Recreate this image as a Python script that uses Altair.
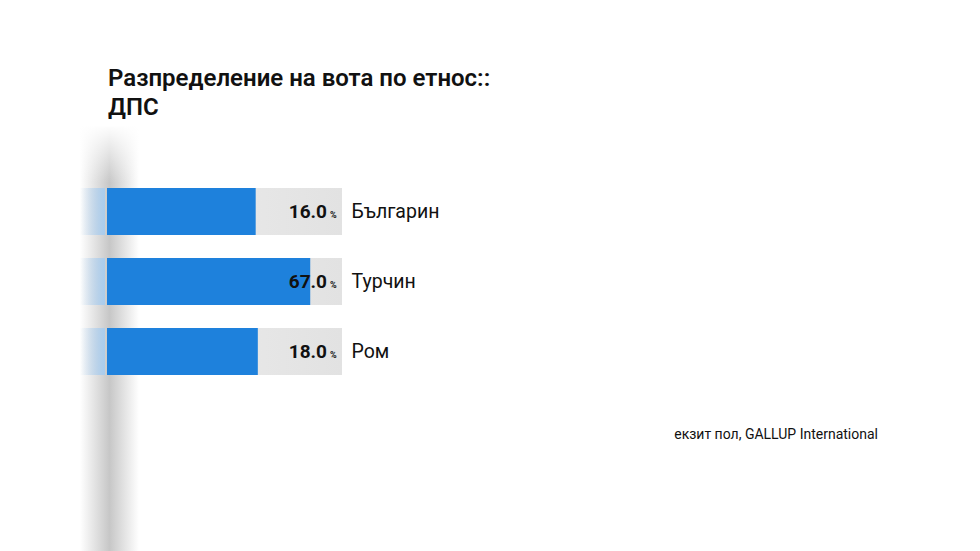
import altair as alt
import pandas as pd

categories = ["Българин", "Турчин", "Ром"]
values = [16.0, 67.0, 18.0]
title_lines = ["Разпределение на вота по етнос::", "ДПС"]
source_text = "екзит пол, GALLUP International"

df = pd.DataFrame({"group": categories, "value": values})
one = pd.DataFrame({"k": [0]})

W, H = 235, 210
BLUE = "#1E81DC"

y_enc = alt.Y(
    "group:N",
    sort=categories,
    scale=alt.Scale(paddingInner=0.33, paddingOuter=0.165),
    axis=alt.Axis(
        orient="right", title=None, domain=False, ticks=False, grid=False,
        labelPadding=9, labelFontSize=19.5, labelFont="Roboto",
        labelColor="#111111", labelFontWeight=400,
    ),
)

xscale = alt.Scale(domain=[-123, 96.7], zero=False, nice=False)

shadow = alt.Chart(one).mark_rect(
    color=alt.LinearGradient(
        gradient="linear", x1=0, x2=1, y1=0, y2=0,
        stops=[
            alt.GradientStop(color="rgba(180,180,180,0)", offset=0),
            alt.GradientStop(color="rgba(180,180,180,1)", offset=0.5),
            alt.GradientStop(color="rgba(180,180,180,0)", offset=1),
        ],
    ),
    opacity=0.75,
).encode(x=alt.value(-27), x2=alt.value(32), y=alt.value(-50), y2=alt.value(380))

shadow_fade = alt.Chart(one).mark_rect(
    color=alt.LinearGradient(
        gradient="linear", x1=0, x2=0, y1=0, y2=1,
        stops=[
            alt.GradientStop(color="rgba(255,255,255,1)", offset=0),
            alt.GradientStop(color="rgba(255,255,255,0)", offset=1),
        ],
    ),
).encode(x=alt.value(-30), x2=alt.value(35), y=alt.value(-52), y2=alt.value(6))

bg = alt.Chart(df).mark_rect(
    color=alt.LinearGradient(
        gradient="linear", x1=0, x2=1, y1=0, y2=0,
        stops=[
            alt.GradientStop(color="#EEEEEE", offset=0),
            alt.GradientStop(color="#E2E2E2", offset=1),
        ],
    ),
).encode(y=y_enc, x=alt.value(0), x2=alt.value(W))

light = alt.Chart(df).mark_rect(
    color=alt.LinearGradient(
        gradient="linear", x1=0, x2=1, y1=0, y2=0,
        stops=[
            alt.GradientStop(color="rgba(170,205,238,0)", offset=0),
            alt.GradientStop(color="rgba(170,205,238,1)", offset=1),
        ],
    ),
).encode(y=y_enc, x=alt.value(-27), x2=alt.value(-2))

bars = alt.Chart(df).mark_rect(color=BLUE).encode(
    y=y_enc,
    x=alt.X("value:Q", scale=xscale, axis=None),
    x2=alt.value(0),
)

nums = alt.Chart(df).mark_text(
    align="right", baseline="middle", font="Roboto", fontSize=19,
    fontWeight="bold", color="#111111",
).encode(y=y_enc, x=alt.value(220), text=alt.Text("value:Q", format=".1f"))

pct = alt.Chart(df).mark_text(
    align="left", baseline="middle", font="Roboto", fontSize=9,
    fontWeight="bold", color="#111111", dy=3,
).encode(y=y_enc, x=alt.value(223), text=alt.value("%"))

src = alt.Chart(one).mark_text(
    align="right", baseline="middle", font="Roboto", fontSize=14,
    color="#111111",
).encode(x=alt.value(771), y=alt.value(258.5), text=alt.value(source_text))

chart = alt.layer(shadow, shadow_fade, bg, light, bars, nums, pct, src).properties(
    width=W, height=H,
    title=alt.TitleParams(
        text=title_lines, anchor="start", frame="group", font="Roboto",
        fontSize=24, fontWeight=600, color="#111111", lineHeight=29,
        offset=5, dx=1,
    ),
    autosize=alt.AutoSizeParams(type="none"),
    padding={"left": 107, "top": 176.5, "right": 638, "bottom": 164.5},
    background="white",
).configure_view(stroke=None)

chart.save("out.html", embed_options={"renderer": "svg", "actions": False})
